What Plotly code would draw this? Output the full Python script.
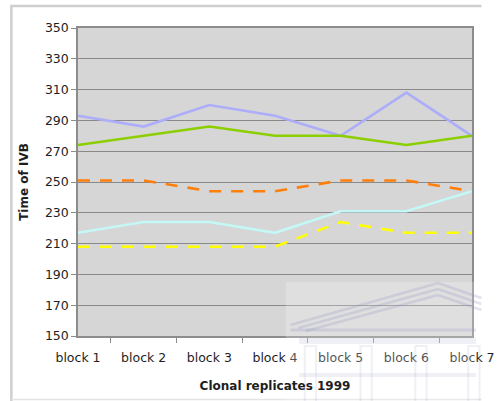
import plotly.graph_objects as go

# Blocks on the x axis
blocks = ["block 1", "block 2", "block 3", "block 4", "block 5", "block 6", "block 7"]

# Time of IVB per clone across blocks
clone_lavender = [293, 286, 300, 293, 280, 308, 280]
clone_green = [274, 280, 286, 280, 280, 274, 280]
clone_orange = [251, 251, 244, 244, 251, 251, 244]
clone_cyan = [217, 224, 224, 217, 231, 231, 244]
clone_yellow = [208, 208, 208, 208, 224, 217, 217]

y_ticks = [150, 170, 190, 210, 230, 250, 270, 290, 310, 330, 350]

W, H = 499, 401
ML, MR, MT, MB = 78, 4, 28, 65
PW, PH = W - ML - MR, H - MT - MB


def px(x):
    return (x - ML) / PW


def py(y):
    return (H - MB - y) / PH


fig = go.Figure()

series = [
    ("clone 1", clone_lavender, "#ADADFA", "solid"),
    ("clone 2", clone_green, "#8CCF00", "solid"),
    ("clone 3", clone_orange, "#FF7F0A", "12px,10px"),
    ("clone 4", clone_cyan, "#C4F8F6", "solid"),
    ("clone 5", clone_yellow, "#FFFF00", "12px,10px"),
]
for name, vals, color, dash in series:
    fig.add_trace(go.Scatter(
        x=blocks, y=vals, name=name, mode="lines",
        line=dict(color=color, width=2.6, dash=dash),
        hoverinfo="x+y",
    ))

shapes = []
# outer chart frame
shapes.append(dict(type="path", xref="paper", yref="paper",
                   path=f"M {px(7.5)},{py(401)} L {px(7.5)},{py(6)} L {px(505)},{py(6)}",
                   line=dict(color="#CFCFCF", width=2.5), layer="below"))
shapes.append(dict(type="line", xref="paper", yref="paper",
                   x0=px(7.5), x1=px(505), y0=py(399.5), y1=py(399.5),
                   line=dict(color="#E4E4E4", width=1.5), layer="below"))

# faint emblem in the lower right corner
emblem = "rgba(150,156,196,0.28)"
emblem_soft = "rgba(165,172,205,0.18)"
shapes.append(dict(type="rect", xref="paper", yref="paper",
                   x0=px(298), x1=px(499), y0=py(401), y1=py(282),
                   fillcolor="rgba(255,255,255,0.22)", line=dict(width=0), layer="above"))
for dx, dy in ((0, 0), (8, 6), (16, 12)):
    shapes.append(dict(type="path", xref="paper", yref="paper",
                       path=(f"M {px(303 + dx)},{py(325 + dy * 0.5)} "
                             f"L {px(459)},{py(283 + dy)} "
                             f"L {px(505)},{py(298 + dy)}"),
                       line=dict(color=emblem, width=2.5), layer="above"))
shapes.append(dict(type="line", xref="paper", yref="paper",
                   x0=px(303), x1=px(499), y0=py(330), y1=py(330),
                   line=dict(color=emblem, width=3), layer="above"))
shapes.append(dict(type="rect", xref="paper", yref="paper",
                   x0=px(312), x1=px(499), y0=py(344), y1=py(338),
                   fillcolor=emblem_soft, line=dict(width=0), layer="above"))
for cx in (324, 383, 441, 497):
    shapes.append(dict(type="rect", xref="paper", yref="paper",
                       x0=px(cx - 6), x1=px(cx + 6), y0=py(402), y1=py(346),
                       fillcolor="rgba(0,0,0,0)",
                       line=dict(color=emblem_soft, width=2), layer="above"))
shapes.append(dict(type="rect", xref="paper", yref="paper",
                   x0=px(312), x1=px(499), y0=py(377), y1=py(373),
                   fillcolor=emblem_soft, line=dict(width=0), layer="above"))

fig.update_layout(
    width=W, height=H,
    margin=dict(l=ML, r=MR, t=MT, b=MB),
    paper_bgcolor="white",
    plot_bgcolor="#D6D6D6",
    showlegend=False,
    font=dict(family="DejaVu Sans, Verdana, sans-serif", color="#1E1E1E", size=12),
    shapes=shapes,
    xaxis=dict(
        type="category",
        showgrid=False,
        ticks="outside", tickson="boundaries", ticklen=5, tickcolor="#8C8C8C",
        ticklabelstandoff=9,
        showline=True, linecolor="#8C8C8C", linewidth=1.5, mirror=True,
        tickfont=dict(size=12.5),
        title=dict(text="<b>Clonal replicates 1999</b>", font=dict(size=12), standoff=18),
        fixedrange=True,
    ),
    yaxis=dict(
        range=[150, 350],
        tickvals=y_ticks,
        showgrid=True, gridcolor="#8A8A8A", gridwidth=1,
        ticks="outside", ticklen=5, tickcolor="#8C8C8C",
        showline=True, linecolor="#8C8C8C", linewidth=1.5, mirror=True,
        zeroline=False,
        tickfont=dict(size=12.5),
        title=dict(text="<b>Time of IVB</b>", font=dict(size=12), standoff=14),
        fixedrange=True,
    ),
)

fig.write_html("out.html")
